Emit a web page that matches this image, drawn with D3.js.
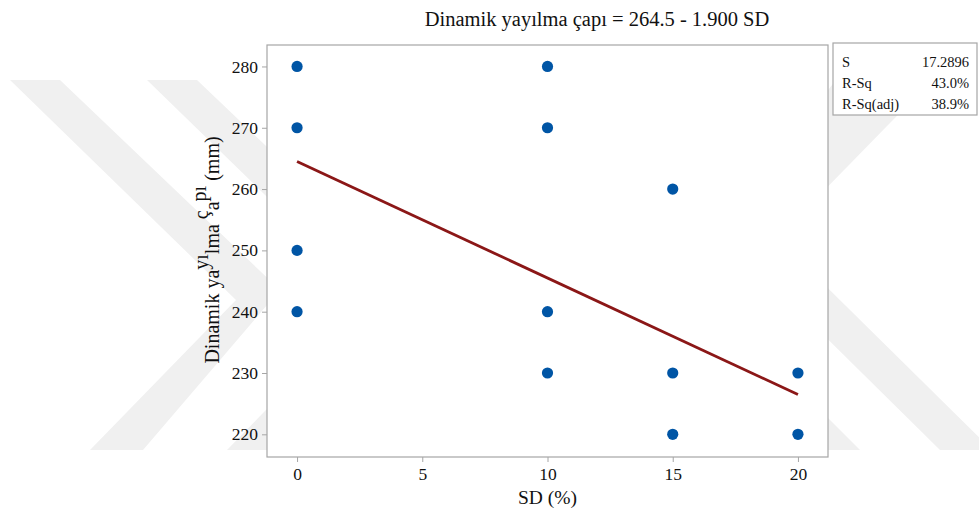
<!DOCTYPE html>
<html>
<head>
<meta charset="utf-8">
<script src="https://cdn.jsdelivr.net/npm/d3@7"></script>
<style>
  body { margin: 0; background: #fff; }
  text { font-family: "Liberation Serif", "Times New Roman", serif; fill: #111; }
</style>
</head>
<body>
<div id="chart"></div>
<script>
const w = 979, h = 516;
const m = {l: 267, r: 828, t: 45, b: 457};

// data
const sdValues = [0, 0, 0, 0, 10, 10, 10, 10, 15, 15, 15, 20, 20];
const spreadValues = [280, 270, 250, 240, 280, 270, 240, 230, 260, 230, 220, 230, 220];
const fitX = [0, 20];
const fitY = [264.5, 226.5];
const xTicks = [0, 5, 10, 15, 20];
const yTicks = [220, 230, 240, 250, 260, 270, 280];
const statNames = ["S", "R-Sq", "R-Sq(adj)"];
const statValues = ["17.2896", "43.0%", "38.9%"];

// faint background watermark chevrons (decoration)
const watermark = [
  [[10, 80], [60, 80], [280, 290], [143, 450], [90, 450], [236, 300]],
  [[147, 80], [197, 80], [417, 290], [280, 450], [227, 450], [373, 300]],
  [[836, 80], [932, 80], [717, 300], [662, 300]],
  [[700, 162], [700, 213], [940, 450], [992, 450]],
  [[700, 290], [700, 343], [807, 450], [860, 450]]
];

const svg = d3.select("#chart").append("svg")
  .attr("width", w).attr("height", h);

svg.append("g").selectAll("polygon")
  .data(watermark)
  .join("polygon")
  .attr("points", d => d.map(p => p.join(",")).join(" "))
  .attr("fill", "#f0f0f0");

const x = d3.scaleLinear().domain([-1.2, 21.2]).range([m.l, m.r]);
const y = d3.scaleLinear().domain([216.3, 283.5]).range([m.b, m.t]);

svg.append("rect")
  .attr("x", m.l).attr("y", m.t)
  .attr("width", m.r - m.l).attr("height", m.b - m.t)
  .attr("fill", "#fff").attr("stroke", "#a6a6a6").attr("stroke-width", 1.2);

const xAxis = svg.append("g")
  .attr("transform", `translate(0,${m.b})`)
  .call(d3.axisBottom(x).tickValues(xTicks).tickSize(5).tickPadding(6));
const yAxis = svg.append("g")
  .attr("transform", `translate(${m.l},0)`)
  .call(d3.axisLeft(y).tickValues(yTicks).tickSize(5).tickPadding(4));

[xAxis, yAxis].forEach(a => {
  a.select(".domain").remove();
  a.selectAll("line").attr("stroke", "#a6a6a6");
  a.selectAll("text")
    .style("font-family", '"Liberation Serif", "Times New Roman", serif')
    .style("font-size", "17.5px").attr("fill", "#111");
});

// fitted line
svg.append("path")
  .datum(fitX.map((v, i) => ({x: v, y: fitY[i]})))
  .attr("fill", "none")
  .attr("stroke", "#8b1717")
  .attr("stroke-width", 2.8)
  .attr("d", d3.line().x(d => x(d.x)).y(d => y(d.y)));

svg.append("g").selectAll("circle")
  .data(sdValues.map((v, i) => ({x: v, y: spreadValues[i]})))
  .join("circle")
  .attr("cx", d => x(d.x))
  .attr("cy", d => y(d.y))
  .attr("r", 5.6)
  .attr("fill", "#0055a5");

// title
svg.append("text")
  .attr("x", 597).attr("y", 26)
  .attr("text-anchor", "middle")
  .style("font-size", "20.5px")
  .text("Dinamik yayılma çapı = 264.5 - 1.900 SD");

// x label
svg.append("text")
  .attr("x", (m.l + m.r) / 2).attr("y", 504)
  .attr("text-anchor", "middle")
  .style("font-size", "19.5px")
  .text("SD (%)");

// y label, with the shifted glyphs seen in the picture
const yl = svg.append("text")
  .attr("transform", "translate(219,250) rotate(-90)")
  .attr("text-anchor", "middle")
  .style("font-size", "20px");
const parts = [
  ["Dinamik ya", 0], ["yı", -11], ["lma ", 11], ["ç", -11], ["a", 11], ["pı", -13], [" (mm)", 13]
];
parts.forEach(p => yl.append("tspan").attr("dy", p[1]).text(p[0]));

// stats box
const lg = svg.append("g");
lg.append("rect")
  .attr("x", 833).attr("y", 43).attr("width", 144).attr("height", 72)
  .attr("fill", "#fff").attr("stroke", "#a6a6a6").attr("stroke-width", 1.2);
statNames.forEach((s, i) => {
  lg.append("text").attr("x", 842).attr("y", 67 + i * 21)
    .style("font-size", "14.5px").text(s);
  lg.append("text").attr("x", 969).attr("y", 67 + i * 21)
    .attr("text-anchor", "end")
    .style("font-size", "14.5px").text(statValues[i]);
});
</script>
</body>
</html>
